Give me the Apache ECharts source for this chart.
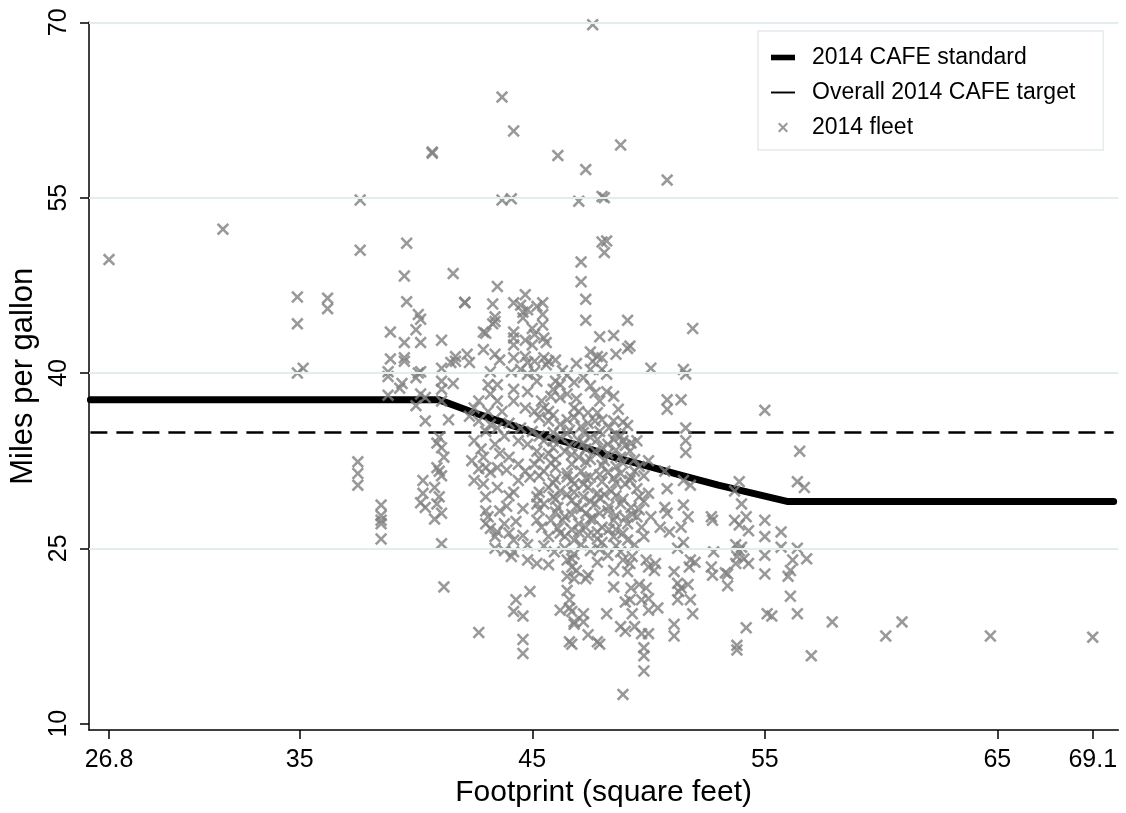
<!DOCTYPE html>
<html><head><meta charset="utf-8">
<script src="https://cdn.jsdelivr.net/npm/echarts@6/dist/echarts.min.js"></script>
<style>html,body{margin:0;padding:0;background:#fff}#c{width:1126px;height:813px}</style>
</head><body><div id="c"></div>
<script>
const xTicks = [26.8, 35, 45, 55, 65, 69.1];
const yTicks = [10, 25, 40, 55, 70];
const gridValues = [25, 40, 55, 70];
const cafeStandard = [[26,37.7],[41,37.7],[42.5,36.6],[44,35.6],[45.5,34.6],[47,33.8],[48.5,32.8],[50,32.0],[51.5,31.2],[53,30.4],[54.5,29.7],[56,29.0],[70,29.0]];
const cafeTarget = [[26,34.9],[70,34.9]];
const fleetUpper = [[47.6,69.8],[43.7,63.6],[44.2,60.7],[40.7,58.8],[40.7,58.9],[46.1,58.6],[48.8,59.5],[47.3,57.4],[50.8,56.5],[37.6,54.8],[43.7,54.8],[44.1,54.9],[47.0,54.7],[48.0,55.1],[48.1,55.0],[31.7,52.3],[26.8,49.7],[34.9,46.5],[36.2,46.4],[36.2,45.5],[34.9,44.2],[34.9,40.0],[35.15,40.4]];
const fleetUpperLeft = [[37.6,50.5],[39.6,51.1],[39.5,48.3],[41.6,48.5],[43.5,47.4],[44.7,46.7],[42.1,46.0],[42.1,46.05],[39.6,46.1],[43.3,45.9],[44.2,46.0],[44.5,45.8],[44.8,45.4],[45.2,45.7],[40.1,45.0],[40.2,44.6],[43.4,44.8],[43.3,44.2],[43.4,44.4],[44.6,44.7],[44.6,45.2],[38.9,43.5],[40.0,43.7],[42.9,43.5],[43.0,43.4],[44.2,43.5],[44.2,43.0],[45.0,43.8],[45.1,43.3],[39.5,42.6],[40.2,42.6],[41.1,42.8],[42.9,42.0],[44.2,42.4],[44.7,42.8],[45.0,42.4],[38.9,41.2],[39.5,41.3],[39.5,41.0],[41.7,41.4],[41.5,40.9],[41.7,41.0],[42.2,41.6],[42.3,40.9],[43.4,41.6],[43.6,41.1],[44.2,41.3],[44.7,41.4],[44.8,40.9],[45.1,41.0],[41.1,40.4],[38.8,40.1],[38.8,39.7],[40.1,40.0],[40.2,40.1],[40.0,39.6],[43.2,40.1],[44.1,40.1],[44.5,40.3],[44.8,39.9],[45.1,40.1],[39.4,39.1],[39.3,38.7],[41.1,39.3],[41.6,39.1],[41.1,38.6],[43.1,39.0],[43.5,39.0],[44.2,38.6],[44.8,38.4],[45.2,39.3],[38.8,38.1],[40.2,38.2],[40.4,37.9],[40.0,37.2],[41.1,37.6],[42.7,37.6],[42.5,37.0],[43.2,38.2],[43.5,37.6],[43.1,36.7],[43.7,36.7],[44.2,37.6],[44.7,37.0],[45.1,36.7]];
const fleetUpperRight = [[48.0,51.2],[48.2,51.3],[48.1,50.3],[47.1,49.5],[47.1,47.8],[47.3,46.3],[47.3,44.5],[49.1,44.5],[51.9,43.8],[45.45,46.0],[45.45,45.0],[45.45,44.1],[45.5,43.0],[45.6,42.6],[47.9,43.1],[48.5,43.2],[49.1,42.1],[49.2,42.3],[47.5,41.8],[47.8,41.4],[48.0,41.3],[48.6,41.6],[45.5,41.3],[45.7,41.0],[46.0,41.1],[45.6,40.7],[47.6,41.0],[47.5,40.3],[48.0,40.3],[48.2,39.9],[50.1,40.4],[51.5,40.3],[51.6,39.9],[46.0,39.3],[46.2,39.0],[45.9,38.6],[46.8,39.2],[47.5,38.9],[47.7,38.3],[48.2,38.4],[46.5,38.2],[46.2,37.9],[50.8,37.7],[51.4,37.7],[50.8,36.9],[48.7,36.9],[45.4,37.6],[45.5,37.0],[45.7,36.7],[46.8,37.0],[47.0,36.7],[47.4,36.6],[47.8,36.6],[46.3,40.2],[46.9,40.8],[47.2,39.6],[46.5,39.8],[45.8,38.0],[46.9,37.8],[47.9,37.6],[48.5,38.0]];
const fleetMidLeft = [[37.5,32.4],[37.5,31.4],[37.5,30.4],[38.5,28.7],[38.5,27.8],[38.5,27.4],[38.5,27.1],[38.5,25.8],[41.1,25.4],[40.3,30.8],[40.3,29.7],[40.2,28.9],[40.4,28.5],[40.8,30.2],[41.0,29.4],[40.9,28.8],[41.1,28.0],[40.8,27.5],[41.0,31.6],[41.1,31.2],[40.9,31.9],[41.0,34.5],[40.9,34.0],[41.1,33.6],[41.2,32.8],[40.4,35.9],[41.4,36.0],[42.4,32.5],[42.7,31.8],[43.0,31.9],[43.2,31.5],[42.5,30.8],[42.9,30.5],[42.5,34.2],[42.8,33.5],[43.4,33.9],[43.6,33.1],[44.0,32.8],[44.4,32.2],[42.7,35.9],[43.2,35.6],[43.5,35.3],[44.0,35.7],[44.5,35.3],[45.0,35.0],[43.5,31.9],[44.7,31.6],[44.9,31.1],[45.1,32.2],[45.2,33.3],[44.0,29.5],[44.2,29.8],[45.2,29.4],[45.2,28.8],[43.0,28.2],[43.1,27.7],[43.6,28.2],[43.0,27.1],[43.2,26.7],[43.8,27.1],[43.5,26.4],[43.4,26.0],[44.0,26.3],[44.2,25.7],[44.6,26.1],[45.2,27.4],[43.4,25.0],[43.8,24.8],[44.2,24.7],[42.3,36.3],[43.0,35.0],[43.8,34.6],[44.4,34.2],[44.8,33.9],[42.9,32.8],[43.9,31.7],[44.4,30.8],[43.5,30.2],[43.0,29.4],[44.6,28.4],[43.9,28.6],[44.3,27.3],[44.8,25.3]];
const fleetCore = [[45.7,35.9],[46.2,35.6],[46.8,36.2],[47.4,35.7],[48.0,36.0],[48.5,35.9],[49.1,35.5],[45.5,34.2],[46.2,34.5],[47.0,34.2],[47.5,34.5],[48.25,33.9],[48.9,34.2],[49.5,34.2],[45.7,33.1],[46.4,33.3],[47.0,32.8],[47.7,33.3],[48.25,33.1],[48.8,32.8],[49.4,32.6],[50.0,32.5],[45.5,31.6],[46.0,31.9],[46.5,31.4],[47.1,31.6],[47.5,31.1],[48.25,31.5],[48.8,31.4],[49.25,31.1],[49.8,31.2],[45.7,30.2],[46.2,29.9],[46.8,30.5],[47.4,30.2],[47.8,29.7],[48.4,29.9],[49.0,30.5],[49.5,30.1],[50.0,29.7],[45.5,28.8],[46.1,28.5],[46.7,29.1],[47.1,28.4],[47.7,28.8],[48.25,28.2],[48.8,28.8],[49.25,28.5],[49.8,29.0],[45.8,27.4],[46.4,27.7],[47.0,27.1],[47.5,27.5],[48.0,26.8],[48.5,27.4],[49.1,27.1],[49.5,27.7],[45.7,26.0],[46.2,26.3],[46.8,25.7],[47.4,26.1],[48.0,25.5],[48.5,26.0],[49.1,25.7],[45.95,24.7],[46.8,24.5],[47.5,24.8],[48.25,24.4],[48.8,24.7],[45.9,34.9],[46.6,35.1],[47.2,34.9],[47.9,35.0],[48.6,34.8],[45.9,33.6],[46.6,33.8],[47.3,33.5],[48.0,33.6],[48.6,33.4],[49.2,33.3],[45.8,32.3],[46.7,32.2],[47.3,32.4],[48.0,32.1],[48.6,32.0],[46.0,30.9],[46.7,30.8],[47.3,31.0],[48.0,30.7],[48.6,30.6],[49.2,30.8],[45.9,29.4],[46.5,29.6],[47.2,29.4],[47.9,29.3],[48.6,29.5],[46.0,28.1],[46.7,27.9],[47.3,28.0],[47.9,28.0],[48.6,27.8],[49.3,27.9],[46.1,26.7],[46.7,26.6],[47.3,26.8],[47.8,26.4],[48.6,26.6]];
const fleetCoreExtra = [[45.3,36.2],[45.9,36.4],[46.5,36.0],[47.1,35.4],[47.7,35.9],[48.3,35.3],[48.9,35.8],[45.3,34.6],[45.9,34.2],[46.5,34.8],[47.2,34.0],[47.8,34.3],[48.5,34.3],[49.0,33.8],[45.3,32.7],[46.0,32.6],[46.7,33.0],[47.5,32.6],[48.1,32.5],[48.9,32.3],[49.6,32.0],[45.3,31.2],[45.9,30.6],[46.5,31.1],[47.2,30.5],[47.9,31.3],[48.5,31.0],[49.4,31.6],[45.3,29.8],[46.0,29.2],[46.8,29.8],[47.5,29.0],[48.1,29.6],[48.9,29.2],[49.6,29.4],[45.3,28.3],[46.3,27.4],[46.9,28.6],[47.6,27.6],[48.3,28.6],[49.0,27.6],[49.6,28.3],[45.4,26.8],[46.4,26.0],[47.0,26.4],[47.8,25.8],[48.3,26.6],[48.9,26.3],[49.4,25.3],[45.5,25.2],[46.4,25.0],[47.1,25.3],[47.9,24.9],[48.6,25.2],[49.3,24.3]];
const fleetMidRight = [[51.6,35.3],[51.6,34.2],[51.6,33.2],[49.25,34.0],[48.8,34.6],[50.7,31.6],[50.8,30.1],[51.5,30.8],[51.8,30.4],[50.7,28.5],[50.8,28.0],[50.5,26.8],[50.9,26.4],[51.5,28.7],[51.7,27.7],[51.4,26.8],[52.7,27.7],[52.75,27.4],[49.7,26.8],[50.1,27.7],[49.8,26.0],[51.5,25.5],[51.25,25.0],[52.8,24.7]];
const fleetLowLeft = [[44.1,24.3],[44.8,24.0],[45.2,23.7],[41.2,21.7],[44.9,21.3],[44.3,20.6],[44.2,19.6],[44.6,19.2],[42.7,17.8],[44.6,17.2],[44.6,16.0]];
const fleetLowMid = [[45.7,23.6],[46.5,24.0],[46.7,24.1],[46.7,23.4],[46.9,23.1],[47.8,23.8],[46.5,22.6],[46.8,22.4],[47.4,22.7],[47.3,22.4],[48.5,23.1],[48.5,21.7],[48.9,24.0],[49.2,23.7],[49.1,23.0],[49.9,24.0],[50.0,23.4],[50.3,23.7],[50.25,23.1],[51.1,23.0],[51.25,22.0],[51.4,21.6],[51.7,21.9],[51.75,23.4],[51.8,24.0],[52.0,23.8],[52.7,23.4],[52.75,22.7],[53.3,22.9],[49.25,21.6],[49.6,21.9],[49.9,21.6],[49.7,20.6],[50.0,20.7],[49.0,20.4],[46.5,21.4],[46.6,20.6],[46.2,19.7],[46.6,19.9],[46.7,19.6],[47.2,19.4],[47.2,18.7],[46.8,18.7],[46.8,18.5],[48.2,19.4],[49.3,19.4],[49.2,20.6],[50.4,19.9],[50.0,19.7],[51.25,20.6],[51.8,20.6],[51.3,21.3],[51.9,19.4],[48.8,18.3],[49.0,17.9],[49.4,18.3],[49.7,17.7],[50.0,17.7],[51.1,18.5],[51.1,17.5],[47.4,17.6],[47.8,17.0],[47.9,16.8],[46.6,17.0],[46.7,16.8],[49.8,16.5],[49.8,15.8],[49.8,14.5],[48.9,12.5]];
const fleetRight = [[55.0,36.8],[56.5,33.3],[56.4,30.7],[56.7,30.2],[53.9,30.7],[53.7,29.9],[54.0,28.8],[53.7,27.4],[53.9,27.0],[54.2,27.7],[54.3,26.5],[55.0,27.4],[55.0,26.0],[55.7,26.4],[55.7,25.1],[53.75,25.3],[53.9,24.8],[54.0,25.1],[53.8,24.3],[54.1,24.1],[54.3,23.7],[53.75,23.7],[53.4,22.8],[53.4,21.8],[55.0,24.4],[55.0,22.8],[56.4,25.0],[56.8,24.1],[56.2,24.0],[56.1,23.1],[56.0,22.6],[56.1,20.9],[55.1,19.4],[55.3,19.2],[56.4,19.4],[57.9,18.7],[54.2,18.2],[53.8,16.7],[53.8,16.3],[57.0,15.8],[60.2,17.5],[60.9,18.7],[64.7,17.5],[69.1,17.4]];
const fleet = [].concat(fleetUpper, fleetUpperLeft, fleetUpperRight, fleetMidLeft, fleetCore, fleetCoreExtra, fleetMidRight, fleetLowLeft, fleetLowMid, fleetRight);

const FONT = 'Liberation Sans';
const CROSS = 'path://M0,1.75L1.75,0L6,4.25L10.25,0L12,1.75L7.75,6L12,10.25L10.25,12L6,7.75L1.75,12L0,10.25L4.25,6Z';

const chart = echarts.init(document.getElementById('c'), null, {renderer: 'canvas'});
chart.setOption({
  animation: false,
  backgroundColor: '#fff',
  grid: {left: 87.5, right: 7.7, top: 22.3, bottom: 79.5, containLabel: false},
  xAxis: {
    type: 'value', min: 25.94, max: 70.2,
    axisLine: {show: true, onZero: false, lineStyle: {color: '#000', width: 1.5}},
    axisTick: {show: true, length: 9, lineStyle: {color: '#000', width: 1.5}, customValues: xTicks},
    axisLabel: {margin: 18, fontFamily: FONT, fontSize: 25, color: '#000', customValues: xTicks},
    splitLine: {show: false},
    name: 'Footprint (square feet)', nameLocation: 'middle', nameGap: 47,
    nameTextStyle: {fontFamily: FONT, fontSize: 30, color: '#000'}
  },
  yAxis: {
    type: 'value', min: 9.447, max: 70,
    axisLine: {show: true, onZero: false, lineStyle: {color: '#000', width: 1.5}},
    axisTick: {show: true, length: 9, lineStyle: {color: '#000', width: 1.5}, customValues: yTicks},
    axisLabel: {rotate: 90, margin: 17, fontFamily: FONT, fontSize: 25, color: '#000', customValues: yTicks},
    splitLine: {show: false},
    name: 'Miles per gallon', nameLocation: 'middle', nameGap: 50, nameRotate: 90,
    nameTextStyle: {fontFamily: FONT, fontSize: 31, color: '#000'}
  },
  legend: {
    orient: 'vertical', left: 758, top: 31,
    padding: [15, 28, 11, 13],
    itemWidth: 24, itemHeight: 10, itemGap: 12,
    borderColor: '#e3ebee', borderWidth: 1.5,
    selectedMode: false,
    textStyle: {fontFamily: FONT, fontSize: 23, color: '#000', lineHeight: 23, padding: [0, 0, 0, 12]},
    data: [
      {name: '2014 CAFE standard', icon: 'path://M0,0L30,0L30,7L0,7Z'},
      {name: 'Overall 2014 CAFE target', icon: 'path://M0,0L30,0L30,2.4L0,2.4Z'},
      {name: '2014 fleet', icon: CROSS}
    ]
  },
  series: [
    {
      name: 'grid', type: 'line', data: [], z: 1, silent: true,
      markLine: {
        silent: true, symbol: 'none', animation: false,
        label: {show: false},
        lineStyle: {color: '#e2edf0', width: 2, type: 'solid'},
        emphasis: {disabled: true},
        data: gridValues.map(v => ({yAxis: v}))
      }
    },
    {
      name: 'Overall 2014 CAFE target', type: 'line', data: cafeTarget, z: 2,
      symbol: 'none', silent: true,
      itemStyle: {color: '#000'},
      lineStyle: {color: '#000', width: 2.5, type: [17, 9]}
    },
    {
      name: '2014 CAFE standard', type: 'line', data: cafeStandard, z: 3,
      symbol: 'none', silent: true,
      itemStyle: {color: '#000'},
      lineStyle: {color: '#000', width: 7, cap: 'round', join: 'round'}
    },
    {
      name: '2014 fleet', type: 'scatter', data: fleet, z: 4,
      symbol: CROSS, symbolSize: 12.5, silent: true,
      itemStyle: {color: '#808080'}
    }
  ]
});
</script></body></html>
